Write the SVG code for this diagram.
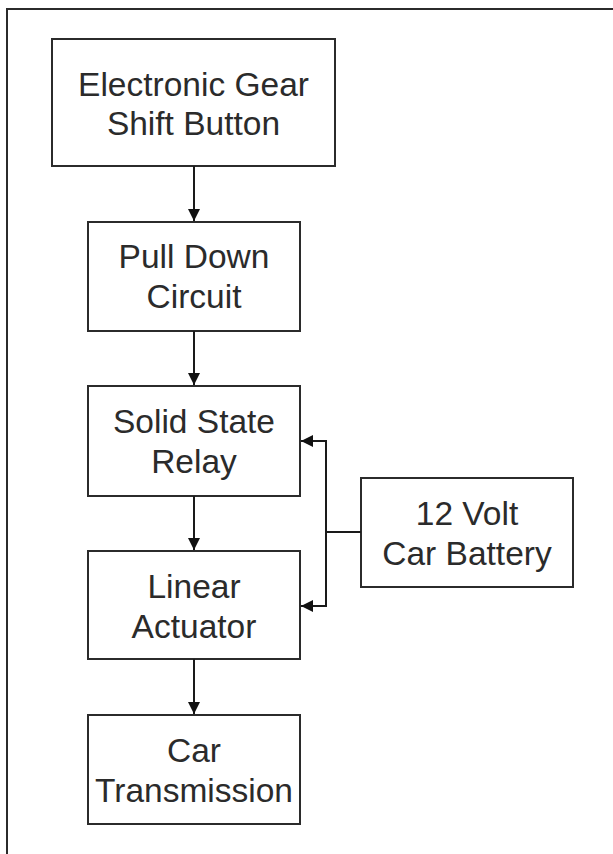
<svg xmlns="http://www.w3.org/2000/svg" width="613" height="854" viewBox="0 0 613 854">
<style>
.box{fill:#fff;stroke:#2b2b2b;stroke-width:2}
.t{font-family:"Liberation Sans",Arial,sans-serif;font-size:33.5px;fill:#2b2b2b;text-anchor:middle}
.c{fill:none;stroke:#1a1a1a;stroke-width:2}
</style>
<defs>
<marker id="ah" viewBox="0 0 12 12" refX="12" refY="6" markerWidth="12" markerHeight="12" markerUnits="userSpaceOnUse" orient="auto">
<path d="M0,0 L12,6 L0,12 Z" fill="#111"/>
</marker>
</defs>
<rect width="613" height="854" fill="#fff"/>
<path d="M7,855 V9 H613" fill="none" stroke="#2b2b2b" stroke-width="2"/>
<g id="n1"><rect class="box" x="52" y="39" width="283" height="127"/>
<text class="t" x="193.5" y="96">Electronic Gear</text><text class="t" x="193.5" y="135">Shift Button</text></g>
<g id="n2"><rect class="box" x="88" y="222" width="212" height="109"/>
<text class="t" x="194" y="268">Pull Down</text><text class="t" x="194" y="308">Circuit</text></g>
<g id="n3"><rect class="box" x="88" y="386" width="212" height="110"/>
<text class="t" x="194" y="433">Solid State</text><text class="t" x="194" y="473">Relay</text></g>
<g id="n4"><rect class="box" x="88" y="551" width="212" height="108"/>
<text class="t" x="194" y="598">Linear</text><text class="t" x="194" y="638">Actuator</text></g>
<g id="n5"><rect class="box" x="88" y="715" width="212" height="109"/>
<text class="t" x="194" y="762">Car</text><text class="t" x="194" y="802">Transmission</text></g>
<g id="n6"><rect class="box" x="361" y="478" width="212" height="109"/>
<text class="t" x="467" y="525">12 Volt</text><text class="t" x="467" y="565">Car Battery</text></g>
<g id="connectors">
<line class="c" x1="194" y1="166" x2="194" y2="221" marker-end="url(#ah)"/>
<line class="c" x1="194" y1="331" x2="194" y2="385" marker-end="url(#ah)"/>
<line class="c" x1="194" y1="496" x2="194" y2="550" marker-end="url(#ah)"/>
<line class="c" x1="194" y1="659" x2="194" y2="714" marker-end="url(#ah)"/>
<path class="c" d="M361,532 H326"/>
<path class="c" d="M326,532 V441 H301" marker-end="url(#ah)"/>
<path class="c" d="M326,532 V606 H301" marker-end="url(#ah)"/>
</g>
</svg>
